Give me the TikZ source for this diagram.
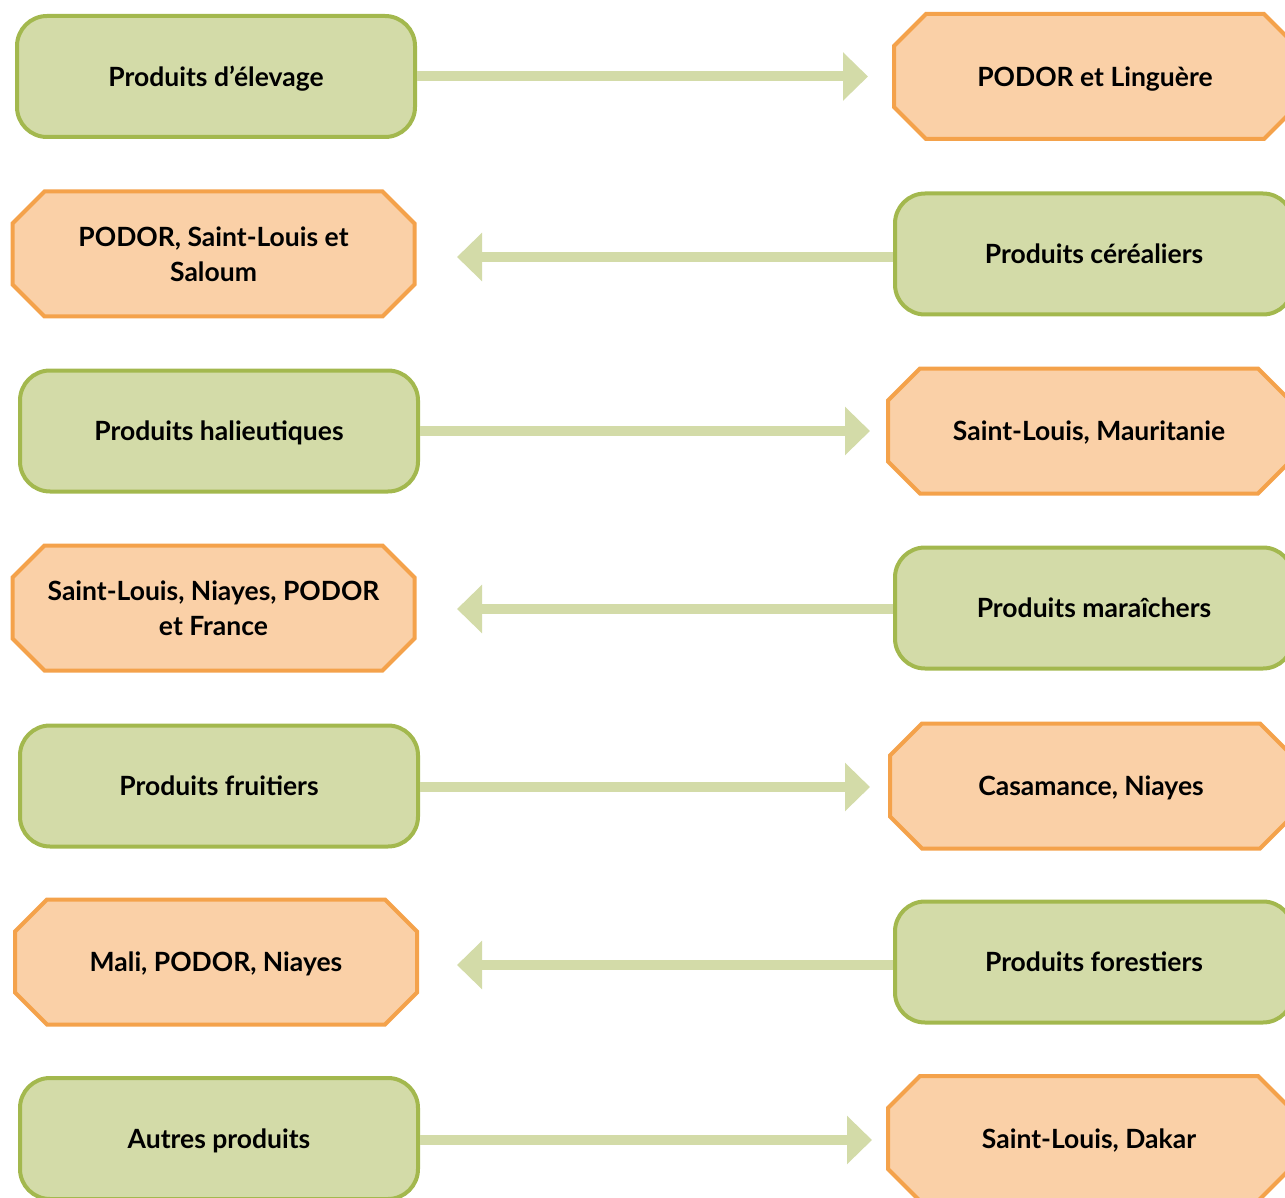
\documentclass[tikz,border=0pt]{standalone}
\usepackage{fontspec}
\setmainfont{Lato}
\usetikzlibrary{arrows.meta,backgrounds}
\definecolor{gfill}{HTML}{D3DBA8}
\definecolor{gdraw}{HTML}{A3B84E}
\definecolor{ofill}{HTML}{FAD0A7}
\definecolor{odraw}{HTML}{F4A24B}
\definecolor{arr}{HTML}{D3DBA8}
\begin{document}
\begin{tikzpicture}[x=1pt,y=-1pt,
  base/.style={line width=4pt,minimum width=398pt,minimum height=121pt,inner sep=0pt,
    text depth=0pt,align=center,font=\fontsize{26.5}{35}\selectfont\bfseries},
  gbox/.style={base,draw=gdraw,fill=gfill,rounded corners=30pt},
  obox/.style={base},
  octo/.style={line width=4pt,draw=odraw,fill=ofill,line join=miter},
  flow/.style={draw=arr,line width=10pt,-{Triangle[width=47pt,length=25pt]}}]
\useasboundingbox (0,0) rectangle (1285,1198);
\clip (0,0) rectangle (1285,1198);
\newcommand\octframe[1]{%
  \begin{pgfonlayer}{background}
  \draw[octo] ([xshift=32pt]#1.north west) -- ([xshift=-32pt]#1.north east)
    -- ([yshift=-32pt]#1.north east) -- ([yshift=32pt]#1.south east)
    -- ([xshift=-32pt]#1.south east) -- ([xshift=32pt]#1.south west)
    -- ([yshift=32pt]#1.south west) -- ([yshift=-32pt]#1.north west) -- cycle;
  \end{pgfonlayer}}
% row 1
\node[gbox] (g1) at (216,76.5) {Produits d’élevage};
\node[obox] (o1) at (1095,76.5) {PODOR et Linguère};
\octframe{o1}
\coordinate (t1) at (868,76.5);
\draw[flow] (g1.east) -- (t1);
% row 2
\node[obox] (o2) at (213.5,254) {PODOR, Saint-Louis et\\Saloum};
\octframe{o2}
\node[gbox] (g2) at (1094,254) {Produits céréaliers};
\coordinate (t2) at (457,257);
\draw[flow] (g2.west|-t2) -- (t2);
% row 3
\node[gbox] (g3) at (219,431) {Produits halieutiques};
\node[obox] (o3) at (1089,431) {Saint-Louis, Mauritanie};
\octframe{o3}
\coordinate (t3) at (870,431);
\draw[flow] (g3.east) -- (t3);
% row 4
\node[obox] (o4) at (213.5,608) {Saint-Louis, Niayes, PODOR\\et France};
\octframe{o4}
\node[gbox] (g4) at (1094,608) {Produits maraîchers};
\coordinate (t4) at (457,609);
\draw[flow] (g4.west|-t4) -- (t4);
% row 5
\node[gbox] (g5) at (219,786) {Produits fruitiers};
\node[obox] (o5) at (1091,786) {Casamance, Niayes};
\octframe{o5}
\coordinate (t5) at (870,787);
\draw[flow] (g5.east|-t5) -- (t5);
% row 6
\node[obox] (o6) at (216,962) {Mali, PODOR, Niayes};
\octframe{o6}
\node[gbox] (g6) at (1094,962) {Produits forestiers};
\coordinate (t6) at (457,965);
\draw[flow] (g6.west|-t6) -- (t6);
% row 7
\node[gbox] (g7) at (219,1138.5) {Autres produits};
\node[obox] (o7) at (1089,1138.5) {Saint-Louis, Dakar};
\octframe{o7}
\coordinate (t7) at (872,1140);
\draw[flow] (g7.east|-t7) -- (t7);
\end{tikzpicture}
\end{document}
